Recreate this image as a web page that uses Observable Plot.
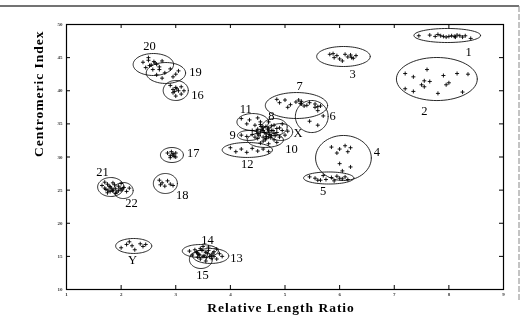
<!DOCTYPE html>
<html>
<head>
<meta charset="utf-8">
<script src="https://cdn.jsdelivr.net/npm/d3@7"></script>
<script src="https://cdn.jsdelivr.net/npm/@observablehq/plot@0.6"></script>
<style>
  html, body { margin: 0; padding: 0; background: #fff; }
  #chart { width: 527px; height: 325px; }
  #chart svg { will-change: transform; }
</style>
</head>
<body>
<div id="chart"></div>
<script>
// ---- Data ----
const xTicks = [1, 2, 3, 4, 5, 6, 7, 8, 9];
const yTicks = [10, 15, 20, 25, 30, 35, 40, 45, 50];
const xTitle = "Relative Length Ratio";
const yTitle = "Centromeric Index";

// cluster ellipses: name, centre x, centre y, radius x, radius y
const clusterNames = ["1","2","3","4","5","6","7","8","9","10","11","12","X","13","14","15","16","17","18","19","20","21","22","Y"];
const clusterCx = [7.97, 7.78, 6.07, 6.07, 5.80, 5.49, 5.21, 4.81, 4.34, 4.64, 4.41, 4.31, 4.92, 3.64, 3.45, 3.46, 3.00, 2.93, 2.81, 2.82, 2.59, 1.81, 2.04, 2.23];
const clusterCy = [48.34, 41.77, 45.17, 29.85, 26.83, 36.11, 37.77, 34.53, 33.25, 32.57, 35.28, 31.06, 33.77, 15.06, 15.81, 14.53, 40.04, 30.30, 26.00, 42.68, 43.96, 25.47, 24.94, 16.57];
const clusterRx = [0.61, 0.74, 0.49, 0.51, 0.46, 0.30, 0.57, 0.23, 0.21, 0.33, 0.29, 0.46, 0.22, 0.33, 0.33, 0.21, 0.23, 0.21, 0.22, 0.36, 0.37, 0.24, 0.18, 0.33];
const clusterRy = [1.06, 3.25, 1.51, 3.40, 0.91, 2.42, 1.96, 1.28, 0.75, 1.13, 1.28, 1.13, 1.28, 1.13, 0.98, 1.36, 1.51, 1.13, 1.51, 1.58, 1.66, 1.43, 1.21, 1.13];
// label positions
const labelX = [8.36, 7.55, 6.24, 6.68, 5.70, 5.87, 5.27, 4.75, 4.04, 5.12, 4.28, 4.31, 5.24, 4.11, 3.58, 3.49, 3.40, 3.32, 3.12, 3.36, 2.52, 1.66, 2.19, 2.21];
const labelY = [45.92, 37.0, 42.6, 30.68, 24.94, 36.26, 40.79, 36.26, 33.25, 31.25, 37.32, 28.87, 33.55, 14.83, 17.4, 12.26, 39.43, 30.53, 24.19, 42.9, 46.68, 27.81, 23.13, 14.38];

// measured chromosome points
const pointsX = [
  // 1
  7.45,7.65,7.75,7.8,7.85,7.95,8.0,8.05,8.1,8.15,8.2,8.25,8.3,8.4,7.9,8.12,
  // 2
  7.6,7.2,7.35,7.9,8.15,7.55,7.65,7.5,7.55,8.0,7.95,8.25,7.2,7.35,7.8,8.35,
  // 3
  5.82,5.9,5.95,6.0,6.1,6.15,6.2,6.25,6.3,6.05,5.88,6.22,
  // 4
  5.85,6.0,6.1,6.2,6.15,5.95,6.0,6.2,6.05,
  // 5
  5.45,5.55,5.65,5.75,5.85,5.95,6.05,6.1,6.15,5.9,5.7,5.6,6.0,
  // 6
  5.55,5.6,5.7,5.45,5.6,5.4,5.65,
  // 7
  4.85,4.9,5.0,5.1,5.2,5.3,5.3,5.35,5.45,5.55,5.6,5.05,5.25,5.28,
  // 11
  4.2,4.35,4.5,4.3,4.45,4.55,
  // 8
  4.7,4.8,4.9,4.75,4.95,4.65,
  // 9
  4.2,4.3,4.4,4.45,
  // 10
  4.5,4.6,4.7,4.8,4.55,4.85,
  // X
  4.85,4.95,5.0,5.05,4.9,
  // central core
  4.5,4.55,4.6,4.65,4.7,4.75,4.6,4.5,4.8,4.7,4.55,4.65,4.4,4.85,4.6,4.7,4.75,
  4.52,4.58,4.62,4.68,4.72,4.78,4.64,4.56,4.82,4.66,4.48,4.74,
  // 12
  4.0,4.1,4.2,4.3,4.4,4.5,4.6,4.7,
  // 16
  2.9,3.0,3.05,2.95,3.1,3.0,2.95,3.1,3.15,3.02,2.98,
  // 17
  2.85,2.9,2.95,3.0,2.9,3.0,2.95,2.92,2.97,
  // 18
  2.7,2.75,2.85,2.9,2.8,2.95,2.72,
  // 19
  2.7,2.8,2.9,3.0,2.95,2.75,3.05,2.65,
  // 20
  2.4,2.5,2.55,2.6,2.65,2.7,2.45,2.58,2.75,2.5,2.62,2.52,
  // 21 / 22
  1.65,1.7,1.75,1.8,1.85,1.9,1.8,1.95,2.0,2.05,2.1,1.75,1.9,2.0,2.15,1.7,1.85,1.95,
  1.72,1.78,1.82,1.88,1.92,1.98,2.02,1.76,1.84,
  // Y
  2.0,2.1,2.15,2.2,2.25,2.35,2.4,2.45,
  // 13 / 14 / 15
  3.25,3.35,3.4,3.45,3.5,3.55,3.6,3.65,3.7,3.75,3.8,3.45,3.55,3.4,3.65,3.3,3.6,3.5,3.85,3.75,
  3.42,3.48,3.52,3.58,3.62,3.68,3.44,3.56,3.38,3.7
];
const pointsY = [
  48.3,48.4,48.2,48.5,48.3,48.1,48.2,48.3,48.2,48.4,48.3,48.1,48.3,47.9,48.2,48.1,
  43.2,42.6,42.1,42.3,42.6,41.5,41.4,40.9,40.6,41.2,40.9,39.8,40.3,39.9,39.6,42.5,
  45.5,45.0,45.3,44.8,45.5,45.1,45.4,44.9,45.3,44.5,45.6,45.0,
  31.5,31.2,31.7,31.4,30.8,30.6,29.0,28.5,27.9,
  27.0,26.8,26.5,26.6,26.9,27.1,26.7,27.0,26.6,26.4,27.2,26.5,26.8,
  37.5,37.0,36.2,35.4,34.8,37.8,37.7,
  38.7,38.2,38.6,37.9,38.3,38.4,38.0,37.7,38.2,38.0,37.6,37.5,38.6,38.1,
  35.8,35.6,35.9,35.0,34.8,35.3,
  35.3,34.8,34.4,34.0,35.0,34.6,
  33.3,33.1,33.4,33.0,
  32.8,32.4,32.0,32.6,32.1,32.2,
  33.7,34.0,33.3,33.9,33.0,
  34.2,33.8,34.5,33.5,33.9,33.2,33.0,33.5,33.6,34.4,34.9,32.8,34.0,34.3,34.0,33.0,34.7,
  33.3,34.1,33.7,34.2,33.4,34.0,32.6,34.6,33.2,33.1,33.9,32.9,
  31.4,30.8,31.2,30.7,31.3,30.9,31.2,30.8,
  40.8,40.5,40.0,39.7,39.5,39.2,40.2,40.6,40.0,40.3,39.9,
  30.6,30.2,30.5,30.0,29.9,30.6,30.3,30.8,30.1,
  26.5,26.1,26.4,25.9,25.6,25.7,25.8,
  43.2,42.7,43.3,42.5,42.1,41.9,43.0,42.4,
  44.3,44.6,43.9,44.4,44.0,43.6,43.5,43.2,44.5,45.0,44.2,43.8,
  25.7,25.3,25.9,25.5,26.1,25.2,24.8,25.6,25.0,25.4,24.8,24.6,24.5,26.0,25.3,26.2,25.0,24.9,
  25.1,25.6,25.3,25.8,24.7,25.3,25.2,25.0,24.9,
  16.3,16.8,17.2,16.6,16.0,16.9,16.5,16.8,
  15.8,16.0,15.5,16.2,15.0,15.6,15.9,15.2,15.7,16.1,15.4,14.6,14.3,14.9,14.7,15.2,16.4,16.5,15.0,14.6,
  15.3,15.9,15.1,15.4,15.0,15.5,15.2,14.8,15.6,15.0
];

// ---- Build tables ----
const points = pointsX.map((x, i) => ({x, y: pointsY[i]}));
const clusters = clusterNames.map((name, i) => ({
  name, cx: clusterCx[i], cy: clusterCy[i], rx: clusterRx[i], ry: clusterRy[i],
  lx: labelX[i], ly: labelY[i]
}));
// ellipse outlines sampled from centre and radii
const outline = [];
const N = 72;
for (const c of clusters) {
  for (let k = 0; k <= N; k++) {
    const t = 2 * Math.PI * k / N;
    outline.push({name: c.name, x: c.cx + c.rx * Math.cos(t), y: c.cy + c.ry * Math.sin(t)});
  }
}

const serif = "'Liberation Serif', 'DejaVu Serif', serif";
const W = 527, H = 325, mL = 66, mR = 24, mT = 24, mB = 36;
const innerW = W - mL - mR, innerH = H - mT - mB;

const chart = Plot.plot({
  width: W, height: H,
  marginLeft: mL, marginRight: mR, marginTop: mT, marginBottom: mB,
  style: {fontFamily: serif, background: "#fff", color: "#000"},
  x: {domain: [1, 9]},
  y: {domain: [10, 50]},
  marks: [
    Plot.frame({stroke: "#000", strokeWidth: 1.2}),
    // inward ticks on all four sides
    Plot.tickX(xTicks, {x: d => d, insetTop: innerH - 4, stroke: "#000", strokeWidth: 1}),
    Plot.tickX(xTicks, {x: d => d, insetBottom: innerH - 4, stroke: "#000", strokeWidth: 1}),
    Plot.tickY(yTicks, {y: d => d, insetRight: innerW - 4, stroke: "#000", strokeWidth: 1}),
    Plot.tickY(yTicks, {y: d => d, insetLeft: innerW - 4, stroke: "#000", strokeWidth: 1}),
    Plot.axisX(xTicks, {tickSize: 0, tickPadding: 3, fontSize: 5, fontWeight: "bold", label: null, fill: "#333"}),
    Plot.axisY(yTicks, {tickSize: 0, tickPadding: 4, fontSize: 5, fontWeight: "bold", label: null, fill: "#333"}),
    // ellipses
    Plot.line(outline, {x: "x", y: "y", z: "name", stroke: "#111", strokeWidth: 0.9}),
    // chromosome measurements
    Plot.dot(points, {x: "x", y: "y", symbol: "plus", r: 1.4, stroke: "#000", strokeWidth: 0.9}),
    // cluster labels
    Plot.text(clusters, {x: "lx", y: "ly", text: "name", fontSize: 12.5, fontFamily: serif, fill: "#000"}),
    // axis titles
    Plot.text([xTitle], {frameAnchor: "bottom", text: d => d, dy: 18, fontSize: 13.5, fontWeight: "bold", fontFamily: serif, fill: "#000", lineAnchor: "middle", dx: -4}),
    Plot.text([yTitle], {frameAnchor: "left", text: d => d, dx: -28, rotate: -90, fontSize: 13.5, fontWeight: "bold", fontFamily: serif, fill: "#000", dy: 0})
  ]
});

// letter spacing on axis titles
d3.select(chart).selectAll("text").filter(function() {
  const t = this.textContent; return t === xTitle || t === yTitle;
}).attr("letter-spacing", "1px");

// faint outer border of the scanned figure
const svg = d3.select(chart);
svg.append("line").attr("x1", 0).attr("x2", 519).attr("y1", 6).attr("y2", 6)
  .attr("stroke", "#444").attr("stroke-width", 1.3);
svg.append("line").attr("x1", 519).attr("x2", 519).attr("y1", 6).attr("y2", 300)
  .attr("stroke", "#888").attr("stroke-width", 1).attr("stroke-dasharray", "6,2");

document.getElementById("chart").appendChild(chart);
</script>
</body>
</html>
